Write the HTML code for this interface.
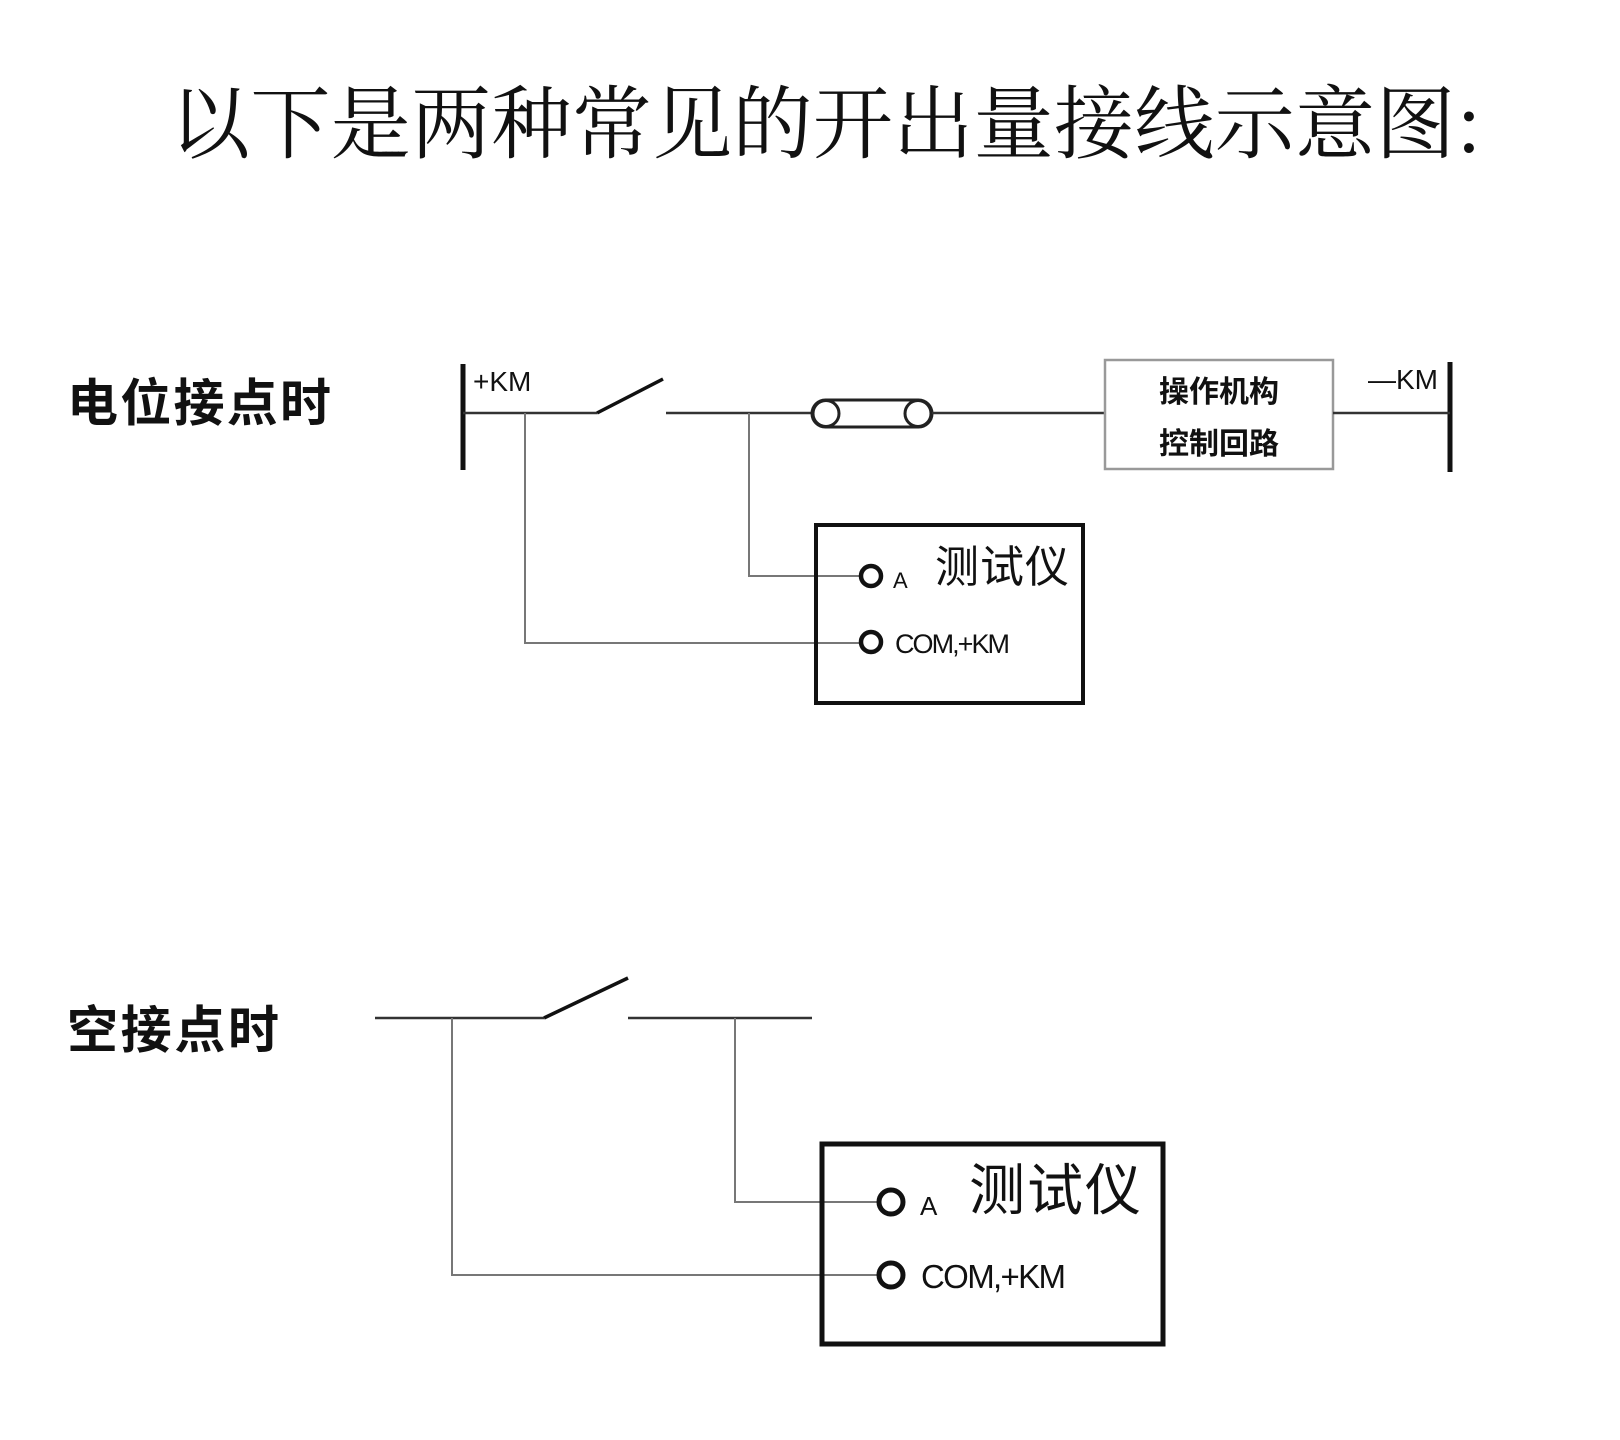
<!DOCTYPE html>
<html><head><meta charset="utf-8"><style>
html,body{margin:0;padding:0;background:#fff;}
svg{display:block;}
text{font-family:"Liberation Sans","Noto Sans CJK SC",sans-serif;fill:#111;}
</style></head><body>
<svg width="1620" height="1440" viewBox="0 0 1620 1440" xmlns="http://www.w3.org/2000/svg">
<text x="170" y="152" font-size="80" textLength="1312" style="font-family:'Noto Serif CJK SC','Noto Sans CJK SC',serif">以下是两种常见的开出量接线示意图:</text>

<text x="67" y="421" font-size="51" font-weight="bold" textLength="264">电位接点时</text>
<line x1="463" y1="364" x2="463" y2="470" stroke="#111" stroke-width="5"/>
<line x1="1450" y1="362" x2="1450" y2="472" stroke="#111" stroke-width="5"/>
<text x="473" y="391" font-size="28">+KM</text>
<text x="1368" y="389" font-size="28">—KM</text>
<line x1="463" y1="413" x2="597" y2="413" stroke="#333" stroke-width="2.5"/>
<line x1="597" y1="413" x2="663" y2="379" stroke="#111" stroke-width="3.5"/>
<line x1="666" y1="413" x2="812" y2="413" stroke="#333" stroke-width="2.5"/>
<rect x="812" y="400" width="120" height="27" rx="13.5" fill="#fff" stroke="#222" stroke-width="3"/>
<circle cx="826" cy="413.5" r="13" fill="none" stroke="#222" stroke-width="3"/>
<circle cx="918" cy="413.5" r="13" fill="none" stroke="#222" stroke-width="3"/>
<line x1="932" y1="413" x2="1105" y2="413" stroke="#333" stroke-width="2.5"/>
<rect x="1105" y="360" width="228" height="109" fill="#fff" stroke="#999" stroke-width="2.5"/>
<text x="1219" y="402" font-size="30" font-weight="bold" text-anchor="middle">操作机构</text>
<text x="1219" y="454" font-size="30" font-weight="bold" text-anchor="middle">控制回路</text>
<line x1="1333" y1="413" x2="1450" y2="413" stroke="#333" stroke-width="2.5"/>
<polyline points="525,413 525,643 871,643" fill="none" stroke="#777" stroke-width="2"/>
<polyline points="749,413 749,576 871,576" fill="none" stroke="#777" stroke-width="2"/>
<rect x="816" y="525" width="267" height="178" fill="none" stroke="#111" stroke-width="4"/>
<circle cx="871" cy="576" r="10" fill="#fff" stroke="#111" stroke-width="4.5"/>
<circle cx="871" cy="642" r="10" fill="#fff" stroke="#111" stroke-width="4.5"/>
<text x="893" y="588" font-size="22">A</text>
<text x="935" y="582" font-size="44" textLength="134">测试仪</text>
<text x="895" y="653" font-size="27" textLength="115">COM,+KM</text>

<text x="67" y="1048" font-size="51" font-weight="bold" textLength="212">空接点时</text>
<line x1="375" y1="1018" x2="544" y2="1018" stroke="#333" stroke-width="2.5"/>
<line x1="544" y1="1018" x2="628" y2="978" stroke="#111" stroke-width="3.5"/>
<line x1="628" y1="1018" x2="812" y2="1018" stroke="#333" stroke-width="2.5"/>
<polyline points="452,1018 452,1275 888,1275" fill="none" stroke="#777" stroke-width="2"/>
<polyline points="735,1018 735,1202 888,1202" fill="none" stroke="#777" stroke-width="2"/>
<rect x="822" y="1144" width="341" height="200" fill="none" stroke="#111" stroke-width="5"/>
<circle cx="891" cy="1202" r="12" fill="#fff" stroke="#111" stroke-width="5"/>
<circle cx="891" cy="1275" r="12" fill="#fff" stroke="#111" stroke-width="5"/>
<text x="920" y="1215" font-size="26">A</text>
<text x="969" y="1210" font-size="56" textLength="172">测试仪</text>
<text x="921" y="1288" font-size="33" textLength="145">COM,+KM</text>
</svg>
</body></html>
